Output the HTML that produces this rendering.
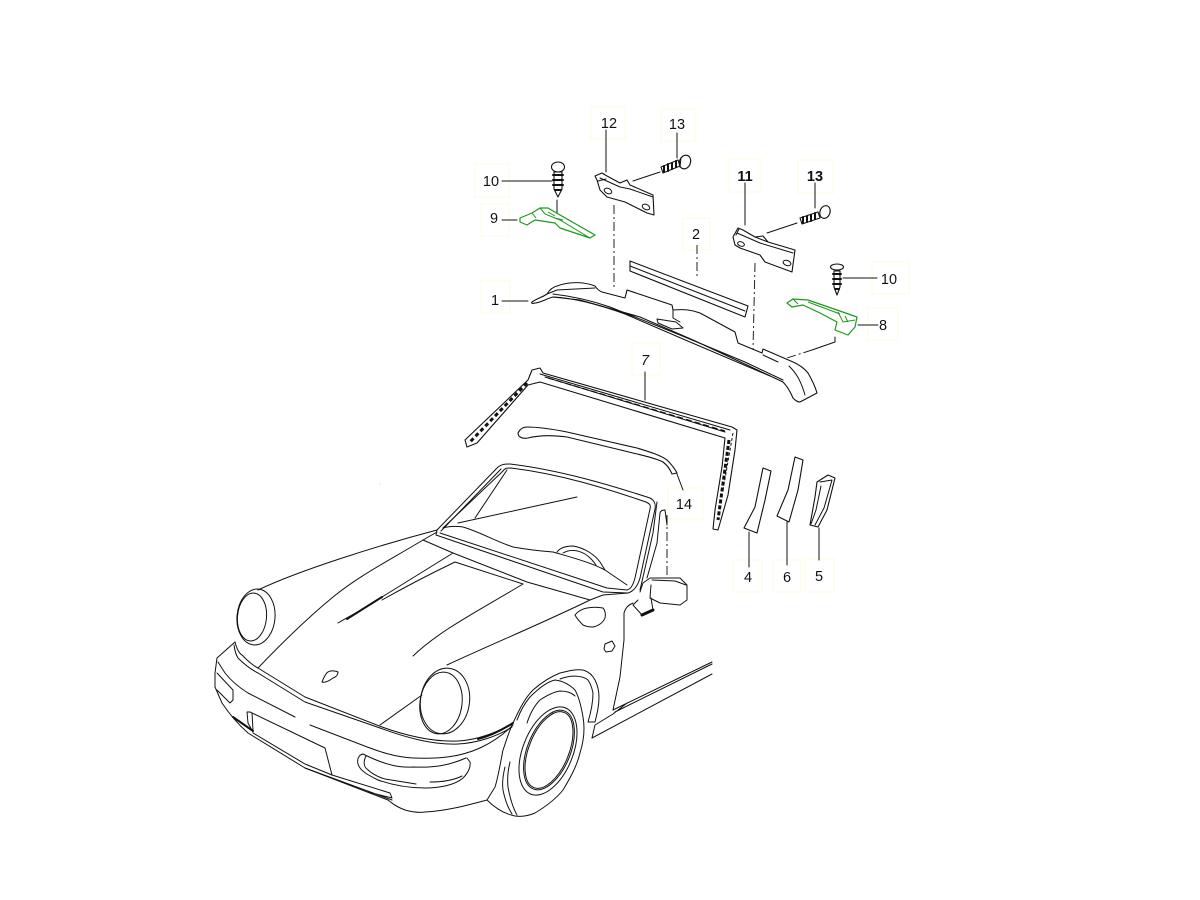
<!DOCTYPE html>
<html>
<head>
<meta charset="utf-8">
<style>
html,body{margin:0;padding:0;background:#fff;width:1200px;height:900px;overflow:hidden}
svg{display:block}
text{font-family:"Liberation Sans",sans-serif;font-size:14.5px;fill:#111;text-anchor:middle}
.b{fill:none;stroke:#fff8e0;stroke-width:1}
.k{fill:none;stroke:#111;stroke-width:1;stroke-linecap:round;stroke-linejoin:round}
.p{fill:#fff;stroke:#111;stroke-width:1.1;stroke-linejoin:round}
.h{fill:none;stroke:#111;stroke-width:2;stroke-linecap:round;stroke-linejoin:round}
.d{fill:none;stroke:#222;stroke-width:1;stroke-dasharray:9 3 2 3}
.g{fill:#fff;stroke:#1a9a1a;stroke-width:1.2;stroke-linejoin:round}
.gl{fill:none;stroke:#1a9a1a;stroke-width:1}
</style>
</head>
<body>
<svg width="1200" height="900" viewBox="0 0 1200 900" xmlns="http://www.w3.org/2000/svg">
<rect width="1200" height="900" fill="#fff"/>

<!-- faint label boxes -->
<g class="b">
<rect x="591" y="107" width="34" height="32"/><rect x="661" y="109" width="34" height="32"/>
<rect x="475" y="164" width="34" height="33"/><rect x="481" y="204" width="28" height="32"/>
<rect x="729" y="159" width="32" height="33"/><rect x="798" y="160" width="35" height="33"/>
<rect x="683" y="218" width="27" height="32"/><rect x="872" y="262" width="37" height="32"/>
<rect x="868" y="308" width="30" height="32"/><rect x="481" y="281" width="29" height="32"/>
<rect x="632" y="343" width="28" height="32"/><rect x="668" y="488" width="35" height="31"/>
<rect x="733" y="560" width="29" height="32"/><rect x="773" y="560" width="28" height="32"/>
<rect x="805" y="559" width="29" height="33"/>
</g>

<!-- leaders -->
<g class="k">
<path d="M606,130V172M677,133V158M633,181L660,172M502,181H552M557,200V217M502,220H517"/>
<path d="M745,183V225M815,183V208M767,233L797,223M843,278H877M858,325H878M835,337V342L812,350"/>
<path d="M502,301H528M645,372V400M677,474L683,490M749,532V567M787,522V565M819,528V560"/>
</g>
<g class="d">
<path d="M614,205V290M755,263L753,350M697,245V278M812,350L787,358V380M667,515V577"/>
</g>

<!-- part 2 -->
<path class="p" d="M630,261L748,306L745,317L630,271Z"/>
<path class="k" d="M630,266L745,311"/>

<!-- part 1 -->
<path class="p" d="M532,302C538,298 543,297 547,294C550,289 553,287 557,286C570,281 585,282 595,286C597,289 599,291 602,292L625,298L627,290L672,305L673,310C685,309 692,310 700,313L735,332L738,343L762,353L763,349L793,362C800,365 804,368 808,373C812,380 815,386 817,393L800,402C797,402 795,400 793,398C790,391 787,386 783,382L747,365L693,340L640,317L580,300L553,297C548,298 540,303 535,303C532,304 531,303 532,302Z"/>
<path class="k" d="M553,294C570,296 590,300 610,307L680,335L745,362L783,380M553,297C575,298 600,305 625,314L690,342L770,376"/>
<path class="k" d="M657,319L676,322L683,328L672,329L658,323ZM547,294L557,290L595,288M673,310V318L680,322M763,355L778,362M789,366C795,372 800,378 805,395"/>

<!-- bracket 12 -->
<path class="p" d="M595,176L602,173L607,176L620,183L627,180L630,185L653,195L654,215L647,213L625,202L607,197L600,190L597,180Z"/>
<path class="k" d="M600,178L620,187L630,189L653,197M598,181L606,179"/>
<ellipse class="k" cx="608" cy="191" rx="4" ry="2.5" transform="rotate(25 608 191)"/>
<ellipse class="k" cx="646" cy="207" rx="4" ry="2.5" transform="rotate(25 646 207)"/>

<!-- screw 13 upper -->
<path class="p" d="M661,167L678,160L680,166L663,173Z" stroke-width="1.2"/>
<path class="h" d="M664,166V172M668,164V171M672,163V169M676,161V167"/>
<ellipse class="p" cx="685" cy="162" rx="5.500" ry="7" stroke-width="1.6" transform="rotate(20 685 162)"/>
<path class="k" d="M681,158L680,167"/>

<!-- screw 10 left -->
<ellipse class="p" cx="558" cy="167" rx="6.500" ry="5" stroke-width="1.5"/>
<path class="p" d="M554,172H562V189L558,197L554,189Z"/>
<path class="h" d="M553,175H563M553,180H563M553,185H563M555,190H561"/>

<!-- part 9 green -->
<path class="g" d="M520,218L532,213L540,208L548,208L560,215L595,235L590,238L560,228L555,223L535,220L527,225L520,222Z"/>
<path class="gl" d="M532,213L536,218M540,208L545,214L560,220L590,238M548,212L555,216M555,218L563,220"/>

<!-- bracket 11 -->
<path class="p" d="M733,237L738,228L743,230L755,237L763,236L768,242L795,250L792,272L765,262L760,255L740,248L735,245Z"/>
<path class="k" d="M737,233L760,243L793,253M739,229L736,235M755,237L768,242"/>
<ellipse class="k" cx="741" cy="244" rx="3.500" ry="2.200" transform="rotate(20 741 244)"/>
<ellipse class="k" cx="787" cy="263" rx="4" ry="2.500" transform="rotate(20 787 263)"/>

<!-- screw 13 right -->
<path class="p" d="M800,218L818,212L820,218L802,224Z"/>
<path class="h" d="M803,217V223M807,216V222M811,215V221M815,213V219"/>
<ellipse class="p" cx="825" cy="212" rx="5" ry="6.500" stroke-width="1.600" transform="rotate(20 825 212)"/>

<!-- screw 10 right -->
<ellipse class="p" cx="837" cy="267" rx="6.500" ry="3" stroke-width="1.200"/>
<path class="p" d="M834,271H840V287L837,295L834,287Z"/>
<path class="h" d="M833,274H841M833,279H841M833,284H841M835,289H839"/>

<!-- part 8 green -->
<path class="g" d="M787,303L793,299L808,300L837,310L857,317L855,327L848,335L835,330L837,322L820,313L803,305L792,307Z"/>
<path class="gl" d="M793,299L798,304M808,302L840,314M838,312L843,322L855,320M845,316L848,322"/>

<!-- part 7 -->
<path class="p" d="M532,370L540,368L543,373L732,427L737,430L735,450L728,495L718,530L713,529L715,510L722,467L725,438L540,382L528,385L477,443L467,447L465,440L528,380Z"/>
<path class="k" d="M540,374L730,430M545,377L725,432"/>
<path d="M548,378L725,431" fill="none" stroke="#111" stroke-width="1.2" stroke-dasharray="6 3"/>
<path d="M527,383L470,442" fill="none" stroke="#111" stroke-width="3" stroke-dasharray="4 3"/>
<path d="M729,440L718,520" fill="none" stroke="#111" stroke-width="3" stroke-dasharray="4 2"/>
<path d="M733,433L723,490" fill="none" stroke="#111" stroke-width="1" stroke-dasharray="3 2"/>

<!-- part 14 -->
<path class="p" d="M518,433C520,429 523,427 527,427C540,427 552,429 567,432L637,448C650,452 660,455 667,460C672,465 675,469 677,473L672,474C670,469 667,465 663,462C655,458 645,456 633,453L567,437C552,435 540,435 528,438C522,439 518,437 518,433Z"/>

<!-- parts 4 6 5 -->
<path class="p" d="M763,468L771,471L765,500L757,533L744,528L755,507Z"/>
<path class="p" d="M795,457L803,460L798,490L789,522L777,516L788,490Z"/>
<path class="p" d="M817,482L828,475L835,478L827,510L818,527L810,525L815,497Z"/>
<path class="k" d="M820,482L832,480L824,508L815,525M821,486L816,510L811,524"/>

<!-- CAR -->
<g class="k">
<!-- fender left + hood -->
<path d="M437,530C380,545 300,570 258,590"/>
<path d="M423,540C390,560 360,575 333,597C305,620 280,645 258,668"/>
<path d="M338,623C355,613 372,605 382,597C405,583 430,567 453,553"/>
<path d="M382,600C405,587 430,574 455,562L523,584"/>
<path d="M347,619L382,597" stroke-width="2"/>
<path d="M413,656C440,630 480,610 523,584"/>
<path d="M447,665C490,645 545,622 590,600L603,595L628,593"/>

<!-- headlights -->
<ellipse cx="256" cy="617" rx="19" ry="28" transform="rotate(5 256 617)"/>
<ellipse cx="252" cy="617" rx="14.500" ry="24" transform="rotate(5 252 617)"/>
<ellipse cx="445" cy="701" rx="24.500" ry="33" transform="rotate(8 445 701)"/>
<ellipse cx="441" cy="703" rx="21" ry="31" transform="rotate(8 441 703)"/>
<path d="M422,695L380,725"/>

<!-- bumper -->
<path d="M235,642C237,650 240,654 242,655C247,660 252,665 258,668L305,697L382,727C410,737 435,742 458,741C478,740 498,732 513,723"/>
<path d="M234,645C235,652 236,655 238,658C245,665 252,670 258,673L305,702L380,728C410,739 435,745 458,744C478,743 498,736 512,727"/>
<path d="M478,739C490,736 502,730 513,723" stroke-width="2"/>
<path d="M235,642L217,658L215,673L215,687L222,703C232,718 240,726 248,733L305,768L388,800C395,806 400,808 405,810C412,812 418,813 425,812C445,811 465,806 487,800"/>
<path d="M218,662L225,673C232,682 240,688 248,693L295,717"/>
<path d="M310,725L362,745C380,752 395,757 413,758C440,759 460,757 480,748C495,741 505,733 513,725"/>
<path d="M247,712H250L325,748L332,775M247,712L248,723L253,732M252,713L253,730"/>
<path d="M233,717L253,731" stroke-width="2"/>
<path d="M253,733L305,764L332,775L390,793L392,798L368,792M305,768L392,800"/>
<path d="M217,673L233,690V700L230,703L217,690"/>
<path d="M322,682C324,677 326,673 328,672C331,670 336,671 338,672C338,675 336,677 333,678C329,681 325,683 322,682Z"/>

<!-- fog lamp -->
<path d="M363,754C358,755 357,760 358,764C360,771 368,775 378,780C395,786 410,788 425,788C440,788 455,785 463,778C468,773 471,767 470,762L467,758"/>
<path d="M363,754C385,765 400,768 413,767C435,768 450,765 466,758"/>
<path d="M366,756C363,762 364,767 367,769C372,774 378,777 385,779L416,784M430,782C440,782 452,781 462,776"/>

<!-- windshield frame -->
<path d="M436,535L437,530L498,467C502,464 505,464 510,464C560,470 610,485 650,498C654,500 656,504 655,509L640,578C638,585 634,591 628,593"/>
<path d="M443,528L503,471C505,468 507,468 511,468C560,474 605,488 646,502C650,504 651,505 650,509L635,578C633,585 631,589 627,590"/>
<path d="M441,531L501,469"/>
<path d="M507,470L475,518M458,523L577,497"/>
<path d="M443,528C450,526 456,526 463,527C480,532 495,541 513,547C530,550 540,551 553,552C570,557 590,562 605,570L627,585"/>
<path d="M440,533L607,588L627,590"/>
<path d="M436,535L603,592L628,593"/>
<path d="M423,540L453,553L527,582L590,600"/>
<path d="M423,540L437,532"/>

<!-- steering wheel -->
<path d="M557,552C560,548 566,546 573,546C585,548 595,555 600,562L605,570"/>
<path d="M563,553C570,549 578,550 585,554C590,557 593,561 596,565"/>

<!-- A pillar -->
<path d="M657,502L653,533L643,577L640,590"/>
<path d="M660,513C661,510 663,510 665,510L667,525M660,513L657,543L647,578"/>

<!-- mirror -->
<path d="M640,592L643,583L650,578H680L687,585V600L680,605L660,603L650,598L651,585"/>
<path d="M638,600L633,605L642,615L653,610L651,598"/>
<path d="M642,615L653,610" stroke-width="3"/>
<path d="M652,580L675,581L686,585"/>

<!-- turn signal + marker -->
<path d="M575,615C578,611 582,609 587,608C592,607 598,607 603,608C605,610 606,614 605,618C603,623 598,626 593,627C588,627 585,626 583,625C580,622 577,619 575,615Z"/>
<path d="M605,644L612,641L615,646L612,651L606,652L604,649Z"/>

<!-- door edge -->
<path d="M633,603C628,605 625,609 624,613L624,640L620,677L613,710"/>
<path d="M592,738L595,725L613,714L627,703M613,710L712,662M615,712L712,664"/>
<path d="M592,738L712,674"/>

<!-- wheel arch -->
<path d="M513,723C520,708 525,698 533,690C542,682 550,677 560,673C568,671 576,669 583,670C590,672 593,676 595,680C598,686 599,692 599,697C599,706 597,714 595,722L588,722C591,712 593,702 593,693C592,688 590,683 588,680C582,675 570,675 560,679"/>

<!-- tyre -->
<path d="M512,725C507,737 505,745 503,750C500,765 498,778 495,787L487,800C495,808 505,814 515,816C522,817 528,816 535,813C545,807 555,800 563,790C572,775 577,765 580,753C584,740 585,728 583,717C581,705 579,697 575,690C570,685 563,681 555,680C546,682 537,690 530,697C524,704 520,712 517,720"/>
<path d="M527,723C530,714 535,705 540,700C546,696 553,692 560,691C568,691 572,693 575,696"/>
<path d="M510,762C508,770 507,778 508,787C510,798 513,808 517,815"/>
<path d="M505,767C503,775 502,783 503,790C505,800 508,808 512,814"/>
<ellipse cx="548" cy="751" rx="25" ry="46.500" transform="rotate(22 548 751)"/>
<ellipse cx="549" cy="750" rx="21.500" ry="42" transform="rotate(22 549 750)"/>
<ellipse cx="549" cy="750" rx="20" ry="40.500" transform="rotate(22 549 750)"/>
</g>
<circle cx="380" cy="484" r=".5" fill="#bbb"/>

<!-- labels -->
<text x="609" y="128">12</text>
<text x="677" y="129">13</text>
<text x="491" y="186">10</text>
<text x="494" y="223">9</text>
<text x="745" y="181" font-weight="bold">11</text>
<text x="815" y="181" font-weight="bold">13</text>
<text x="696" y="239">2</text>
<text x="889" y="284">10</text>
<text x="883" y="330">8</text>
<text x="495" y="305">1</text>
<text x="645" y="365" font-style="italic">7</text>
<text x="684" y="509">14</text>
<text x="748" y="582">4</text>
<text x="787" y="582">6</text>
<text x="819" y="581">5</text>
</svg>
</body>
</html>
